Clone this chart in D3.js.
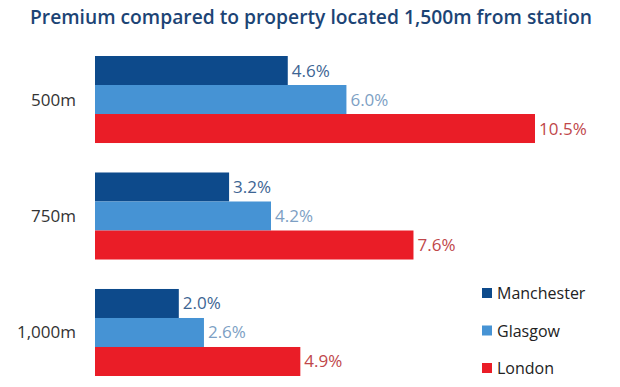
<!DOCTYPE html>
<html><head><meta charset="utf-8">
<script src="https://cdn.jsdelivr.net/npm/d3@7"></script>
<style>body{margin:0;background:#fff}svg{display:block}</style>
</head><body><svg id="c" width="620" height="387"></svg>
<script>
const categories = ["500m", "750m", "1,000m"];
const seriesNames = ["Manchester", "Glasgow", "London"];
const manchester = [4.6, 3.2, 2.0];
const glasgow = [6.0, 4.2, 2.6];
const london = [10.5, 7.6, 4.9];
const valueLabels = [["4.6%","3.2%","2.0%"],["6.0%","4.2%","2.6%"],["10.5%","7.6%","4.9%"]];
const title = "Premium compared to property located 1,500m from station";

const series = [manchester, glasgow, london];
const barColors = ["#0d4a8b", "#4693d4", "#ea1d27"];
const labelColors = ["#3d6593", "#7d9fc4", "#c0474a"];

const svg = d3.select("#c");
const font = "'Open Sans', Lato, sans-serif";

const t = svg.append("text").attr("x", 311).attr("y", 24).attr("text-anchor", "middle")
  .attr("font-family", "'Open Sans', sans-serif")
  .attr("font-weight", 600).attr("font-size", 19).attr("fill", "#1c4475").text(title);
const tw = t.node().getComputedTextLength();
if (Math.abs(tw - 562) > 5) t.attr("textLength", 562).attr("lengthAdjust", "spacingAndGlyphs");

const x = d3.scaleLinear().domain([0, 10.5]).range([95, 535]);
const y0 = d3.scaleBand().domain(categories).range([56, 376]).paddingInner(0.253).paddingOuter(0);
const y1 = d3.scaleBand().domain(seriesNames).range([0, y0.bandwidth()]);

categories.forEach((c, ci) => {
  const g = svg.append("g").attr("transform", `translate(0,${y0(c)})`);
  seriesNames.forEach((s, si) => {
    const v = series[si][ci];
    g.append("rect").attr("x", x(0)).attr("y", y1(s)).attr("width", x(v) - x(0))
      .attr("height", y1.bandwidth()).attr("fill", barColors[si]);
    g.append("text").attr("x", x(v) + 4).attr("y", y1(s) + y1.bandwidth() / 2 + 6)
      .attr("font-family", font).attr("font-size", 17).attr("fill", labelColors[si])
      .text(valueLabels[si][ci]);
  });
  svg.append("text").attr("x", 76).attr("y", y0(c) + y0.bandwidth() / 2 + 6)
    .attr("text-anchor", "end").attr("font-family", font).attr("font-size", 17)
    .attr("fill", "#333").text(c);
});

const legY = d3.scalePoint().domain(seriesNames).range([293, 368]);
seriesNames.forEach((s, si) => {
  svg.append("rect").attr("x", 482).attr("y", legY(s) - 5).attr("width", 10).attr("height", 10)
    .attr("fill", barColors[si]);
  svg.append("text").attr("x", 497).attr("y", legY(s) + 6).attr("font-family", font)
    .attr("font-size", 16).attr("fill", "#222").text(s);
});
</script></body></html>
